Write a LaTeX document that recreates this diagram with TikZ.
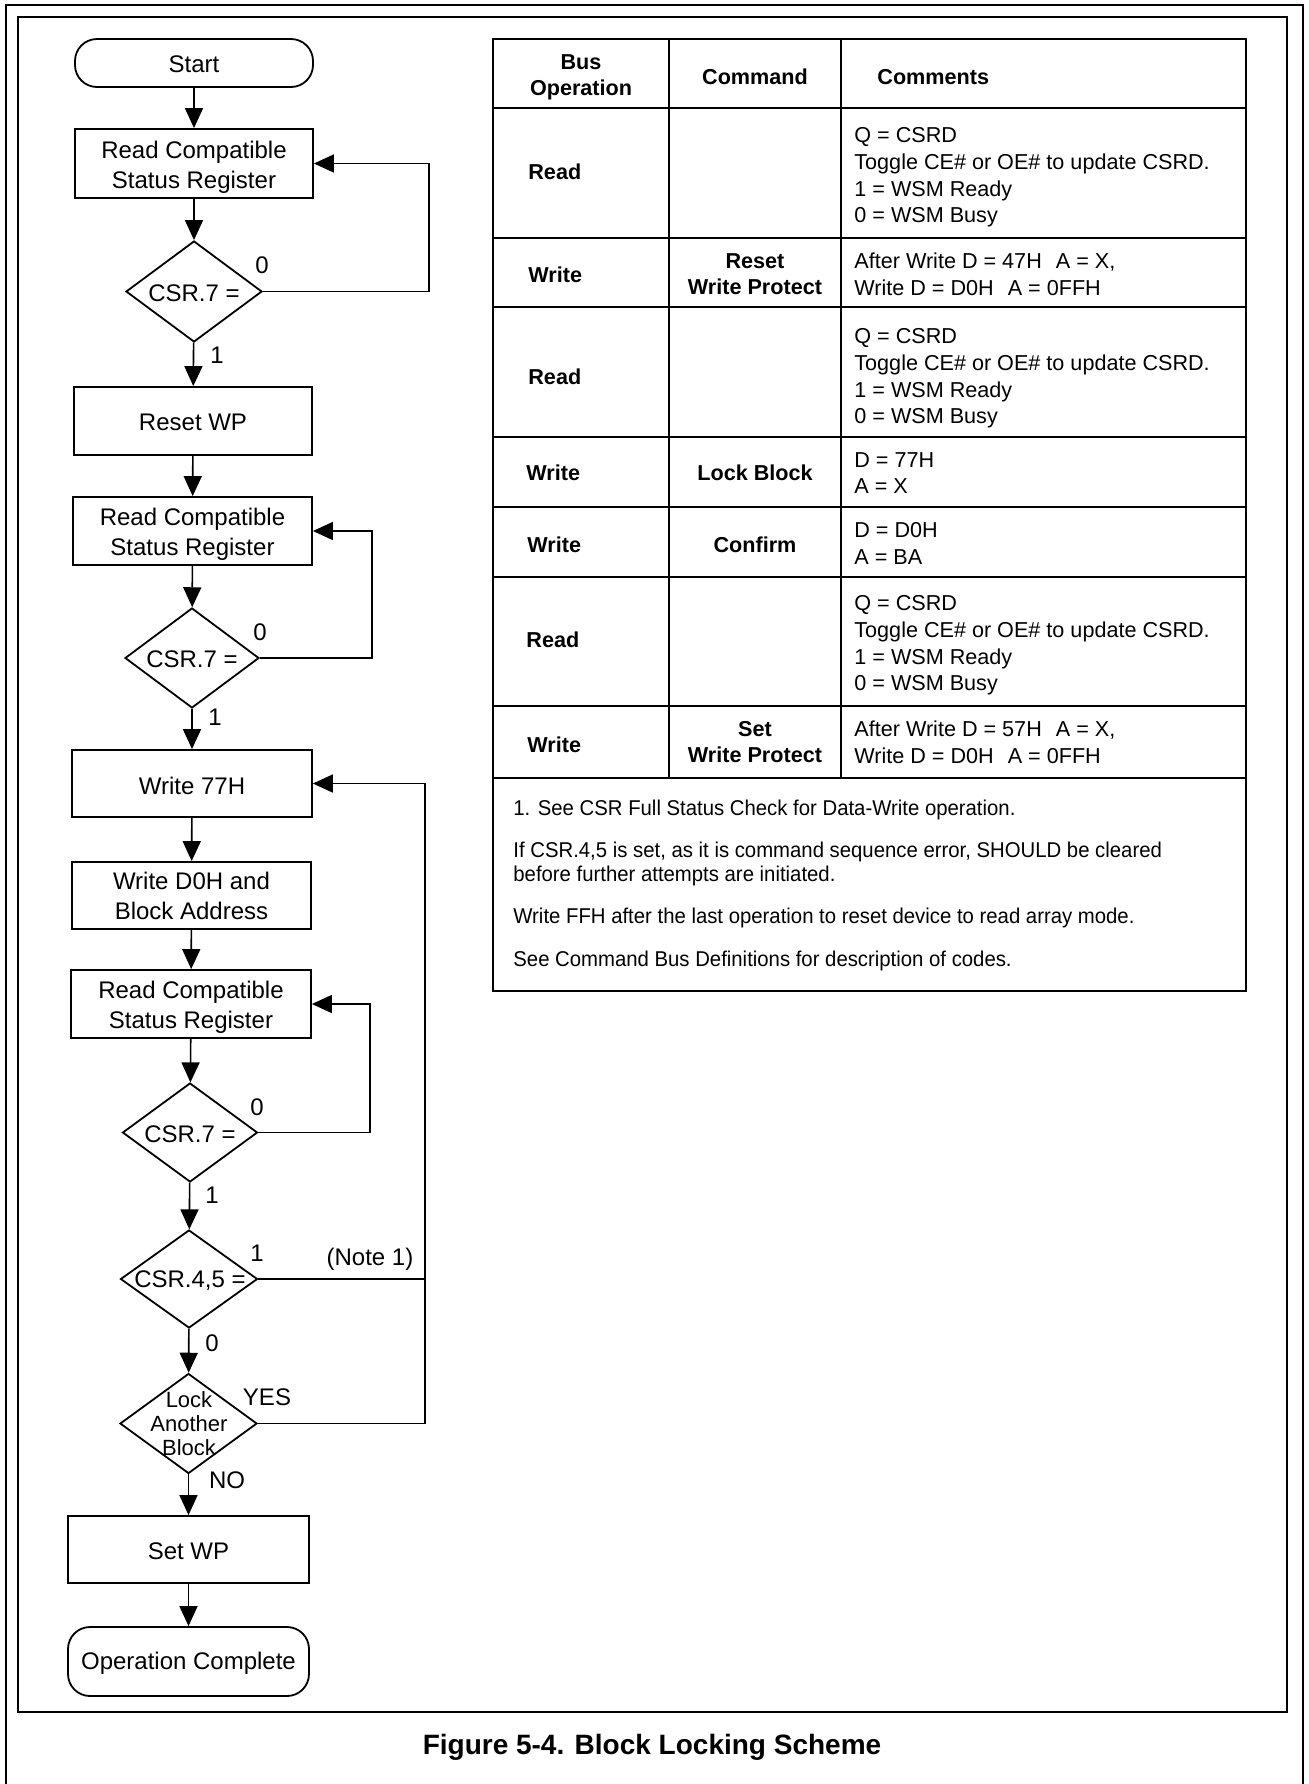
\documentclass[tikz,border=0pt]{standalone}
\usepackage{fontspec}
\setmainfont{Liberation Sans}
\newfontfamily\notefont[FakeStretch=0.95]{Liberation Sans}
\usetikzlibrary{shapes.geometric,arrows.meta}
\begin{document}
\begin{tikzpicture}[x=0.5pt,y=-0.5pt,
  fbox/.style={draw,line width=0.9pt,inner sep=0pt},
  term/.style={fbox,rounded corners=11pt},
  ftext/.style={inner sep=0pt,align=center,font=\fontsize{12}{14.8}\selectfont},
  dia/.style={draw,line width=0.9pt,diamond,inner sep=0pt},
  dtext/.style={inner sep=0pt,align=center,font=\fontsize{12}{14.8}\selectfont},
  arr/.style={line width=0.8pt,-{Triangle[width=9pt,length=10pt]}},
  lnk/.style={line width=0.8pt},
  lbl/.style={inner sep=0pt,font=\fontsize{12}{14}\selectfont},
  tline/.style={line width=0.9pt},
  thd/.style={inner sep=0pt,align=center,font=\bfseries\fontsize{10.8}{13}\selectfont},
  tbo/.style={inner sep=0pt,anchor=west,font=\bfseries\fontsize{10.8}{13}\selectfont},
  tcm/.style={inner sep=0pt,anchor=west,align=left,font=\fontsize{10.8}{13.3}\selectfont},
  tnote/.style={inner sep=0pt,anchor=west,align=left,font=\notefont\fontsize{10.7}{12}\selectfont}]
\useasboundingbox (0,0) rectangle (1308,1784);
\fill[white] (0,0) rectangle (1308,1784);
% frames
\draw[line width=1.3pt] (6,1784) -- (6,5) -- (1303,5) -- (1303,1784);
\draw[line width=1pt] (18,17) rectangle (1287,1712);

% flowchart boxes
\node[term,minimum width=119pt,minimum height=24pt] (start) at (194,63) {};
\node[ftext] (startt) at (194,64.5) {Start};
\node[fbox,minimum width=119pt,minimum height=34.5pt] (rcs1) at (194,163.5) {};
\node[ftext] (rcs1t) at (194,167) {Read Compatible\\Status Register};
\node[dia,minimum width=68pt,minimum height=50.5pt] (d1) at (194,291.5) {};
\node[dtext] (d1t) at (194,293) {CSR.7 =};
\node[fbox,minimum width=119pt,minimum height=34pt] (rwp) at (193,421) {};
\node[ftext] (rwpt) at (193,422) {Reset WP};
\node[fbox,minimum width=119.5pt,minimum height=34pt] (rcs2) at (192.5,531) {};
\node[ftext] (rcs2t) at (192.5,534.5) {Read Compatible\\Status Register};
\node[dia,minimum width=67pt,minimum height=50pt] (d2) at (192,658) {};
\node[dtext] (d2t) at (192,659) {CSR.7 =};
\node[fbox,minimum width=120pt,minimum height=33.5pt] (w77) at (192,783.5) {};
\node[ftext] (w77t) at (192,785.5) {Write 77H};
\node[fbox,minimum width=119.5pt,minimum height=33.5pt] (d0h) at (191.5,895.5) {};
\node[ftext] (d0ht) at (191.5,896) {Write D0H and\\Block Address};
\node[fbox,minimum width=120pt,minimum height=34pt] (rcs3) at (191,1004) {};
\node[ftext] (rcs3t) at (191,1007.5) {Read Compatible\\Status Register};
\node[dia,minimum width=67.5pt,minimum height=49.5pt] (d3) at (190,1132.5) {};
\node[dtext] (d3t) at (190,1134) {CSR.7 =};
\node[dia,minimum width=68.5pt,minimum height=49pt] (d4) at (189,1279) {};
\node[dtext] (d4t) at (190,1281) {CSR.4,5 =};
\node[dia,minimum width=68.5pt,minimum height=50pt] (d5) at (188.5,1423.5) {};
\node[dtext,font=\fontsize{11}{12}\selectfont] (d5t) at (189,1424) {Lock\\Another\\Block};
\node[fbox,minimum width=120.5pt,minimum height=33.5pt] (swp) at (188.5,1549.5) {};
\node[ftext] (swpt) at (188.5,1551) {Set WP};
\node[term,minimum width=120.5pt,minimum height=34.5pt] (opc) at (188.5,1661.5) {};
\node[ftext] (opct) at (188.5,1663) {Operation Complete};

% flow arrows
\draw[arr] (start) -- (rcs1);
\draw[arr] (rcs1) -- (d1);
\draw[arr] (d1) -- (rwp);
\draw[arr] (rwp) -- (rcs2);
\draw[arr] (rcs2) -- (d2);
\draw[arr] (d2) -- (w77);
\draw[arr] (w77) -- (d0h);
\draw[arr] (d0h) -- (rcs3);
\draw[arr] (rcs3) -- (d3);
\draw[arr] (d3) -- (d4);
\draw[arr] (d4) -- (d5);
\draw[arr] (d5) -- (swp);
\draw[arr] (swp) -- (opc);

% loops
\draw[arr] (d1.east) -- ++(166,0) |- (rcs1.east);
\draw[arr] (d2.east) -- ++(112,0) |- (rcs2.east);
\draw[arr] (d3.east) -- ++(111.5,0) |- (rcs3.east);
\coordinate (nx) at (425,0);
\draw[lnk] (d4.east) -- (d4.east -| nx);
\draw[arr] (d5.east) -- (d5.east -| nx) |- (w77.east);

% labels
\node[lbl] (l1a) at (262,265) {0};
\node[lbl] (l1b) at (217,355) {1};
\node[lbl] (l2a) at (260,632) {0};
\node[lbl] (l2b) at (215,717) {1};
\node[lbl] (l3a) at (257,1107) {0};
\node[lbl] (l3b) at (212,1195) {1};
\node[lbl] (l4a) at (257,1253) {1};
\node[lbl] (l4b) at (212,1343) {0};
\node[lbl] (note) at (370,1259) {(Note 1)};
\node[lbl] (yes) at (267,1397) {YES};
\node[lbl] (no) at (227,1480) {NO};

% table grid
\draw[tline] (493,39) rectangle (1246,778);
\draw[tline] (669,39) -- (669,778);
\draw[tline] (841,39) -- (841,778);
\foreach \yy in {108,238,307,437,507,577,706} \draw[tline] (493,\yy) -- (1246,\yy);
\draw[tline] (493,778) rectangle (1246,991);

% header
\node[thd] (hbus) at (581,77) {Bus\\Operation};
\node[thd] (hcmd) at (755,77) {Command};
\node[thd,anchor=west] (hcom) at (877,77) {Comments};

% rows
\node[tbo] (b1) at (528,172) {Read};
\node[tcm] (c1) at (854,177.5) {Q = CSRD\\Toggle CE\# or OE\# to update CSRD.\\1 = WSM Ready\\0 = WSM Busy};

\node[tbo] (b2) at (528,275) {Write};
\node[thd] (m2) at (755,274.5) {Reset\\Write Protect};
\node[tcm] (c2) at (854,274.5) {After Write D = 47H\hspace{7pt}A = X,\\Write D = D0H\hspace{7pt}A = 0FFH};

\node[tbo] (b3) at (528,377) {Read};
\node[tcm] (c3) at (854,378.5) {Q = CSRD\\Toggle CE\# or OE\# to update CSRD.\\1 = WSM Ready\\0 = WSM Busy};

\node[tbo] (b4) at (526,473) {Write};
\node[thd] (m4) at (755,473) {Lock Block};
\node[tcm] (c4) at (854,473) {D = 77H\\A = X};

\node[tbo] (b5) at (527,545) {Write};
\node[thd] (m5) at (755,545) {Confirm};
\node[tcm] (c5) at (854,543.5) {D = D0H\\A = BA};

\node[tbo] (b6) at (526,640) {Read};
\node[tcm] (c6) at (854,645.5) {Q = CSRD\\Toggle CE\# or OE\# to update CSRD.\\1 = WSM Ready\\0 = WSM Busy};

\node[tbo] (b7) at (527,745) {Write};
\node[thd] (m7) at (755,742) {Set\\Write Protect};
\node[tcm] (c7) at (854,742) {After Write D = 57H\hspace{7pt}A = X,\\Write D = D0H\hspace{7pt}A = 0FFH};

% notes
\node[tnote] (n1) at (513,809.5) {1. See CSR Full Status Check for Data-Write operation.};
\node[tnote] (n2) at (513,863.5) {If CSR.4,5 is set, as it is command sequence error, SHOULD be cleared\\before further attempts are initiated.};
\node[tnote] (n3) at (513,917.5) {Write FFH after the last operation to reset device to read array mode.};
\node[tnote] (n4) at (513,960.5) {See Command Bus Definitions for description of codes.};

% caption
\node[inner sep=0pt,font=\bfseries\fontsize{14}{16}\selectfont] (cap) at (652,1747) {Figure 5-4. Block Locking Scheme};
\end{tikzpicture}
\end{document}
